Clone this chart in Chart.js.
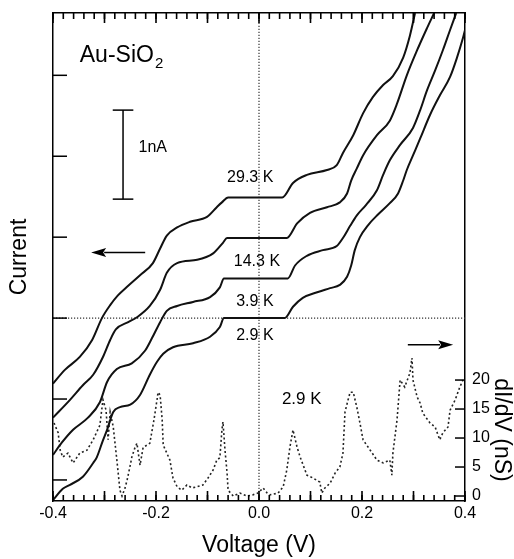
<!DOCTYPE html>
<html><head><meta charset="utf-8">
<style>html,body{margin:0;padding:0;background:#fff;}#wrap{width:514px;height:559px;}</style>
<script src="https://cdn.jsdelivr.net/npm/chart.js@4.4.1/dist/chart.umd.min.js"></script>
</head><body><div id="wrap"><canvas id="c" width="514" height="559"></canvas></div>
<script>
const voltage29_3K = [-0.400,-0.377,-0.348,-0.324,-0.305,-0.289,-0.274,-0.254,-0.231,-0.206,-0.192,-0.179,-0.159,-0.134,-0.101,-0.082,-0.072,-0.060,0.045,0.066,0.093,0.132,0.151,0.163,0.183,0.202,0.221,0.241,0.260,0.280,0.293,0.303];
const current29_3K = [-0.81,-0.64,-0.48,-0.27,0.00,0.16,0.28,0.40,0.53,0.68,0.86,1.02,1.12,1.19,1.25,1.37,1.43,1.49,1.49,1.67,1.77,1.83,1.89,2.04,2.26,2.53,2.73,2.88,2.99,3.22,3.49,3.77];
const voltage14_3K = [-0.400,-0.367,-0.342,-0.322,-0.303,-0.289,-0.278,-0.254,-0.237,-0.212,-0.192,-0.179,-0.159,-0.120,-0.089,-0.070,-0.062,0.054,0.074,0.099,0.132,0.157,0.171,0.179,0.190,0.202,0.229,0.254,0.268,0.287,0.307,0.326,0.340];
const current14_3K = [-1.23,-1.01,-0.83,-0.70,-0.48,-0.27,-0.14,-0.05,0.01,0.15,0.35,0.56,0.68,0.72,0.80,0.93,0.99,0.99,1.17,1.30,1.37,1.43,1.54,1.70,1.85,2.01,2.26,2.44,2.65,3.00,3.31,3.58,3.77];
const voltage3_9K = [-0.400,-0.383,-0.361,-0.332,-0.309,-0.295,-0.276,-0.247,-0.221,-0.208,-0.192,-0.179,-0.159,-0.128,-0.095,-0.076,-0.068,0.056,0.070,0.093,0.124,0.151,0.163,0.177,0.190,0.208,0.229,0.241,0.254,0.274,0.299,0.313,0.326,0.342,0.357,0.371,0.383];
const current3_9K = [-1.69,-1.54,-1.38,-1.23,-1.04,-0.79,-0.63,-0.56,-0.40,-0.25,-0.05,0.09,0.15,0.20,0.26,0.38,0.49,0.49,0.65,0.77,0.84,0.89,0.99,1.14,1.27,1.40,1.58,1.77,1.95,2.14,2.35,2.57,2.81,3.06,3.31,3.56,3.77];
const voltage2_9K = [-0.400,-0.381,-0.367,-0.342,-0.322,-0.315,-0.303,-0.295,-0.283,-0.270,-0.250,-0.231,-0.212,-0.198,-0.186,-0.167,-0.128,-0.095,-0.076,-0.068,0.050,0.066,0.085,0.113,0.138,0.157,0.171,0.179,0.186,0.196,0.212,0.231,0.254,0.270,0.280,0.287,0.299,0.313,0.332,0.351,0.371,0.384,0.396,0.400];
const current2_9K = [-2.25,-2.11,-2.06,-1.96,-1.79,-1.72,-1.51,-1.38,-1.16,-1.10,-1.07,-0.95,-0.70,-0.54,-0.44,-0.36,-0.31,-0.23,-0.11,0.00,0.00,0.14,0.25,0.32,0.37,0.41,0.51,0.65,0.84,1.00,1.15,1.28,1.42,1.54,1.70,1.83,2.01,2.22,2.51,2.75,2.98,3.21,3.46,3.56];
const dIdVVoltage = [-0.398,-0.390,-0.386,-0.381,-0.371,-0.361,-0.348,-0.334,-0.322,-0.309,
 -0.303,-0.297,-0.293,-0.289,-0.283,-0.276,-0.270,-0.266,-0.260,-0.256,
 -0.250,-0.247,-0.241,-0.237,-0.231,-0.225,-0.217,-0.212,-0.204,-0.198,
 -0.196,-0.192,-0.188,-0.186,-0.179,-0.173,-0.167,-0.159,-0.150,-0.140,
 -0.130,-0.120,-0.109,-0.099,-0.089,-0.082,-0.076,-0.072,-0.070,-0.066,
 -0.062,-0.060,-0.050,-0.037,-0.023,-0.012,-0.002,0.008,0.016,0.021,
 0.037,0.047,0.054,0.060,0.066,0.074,0.080,0.093,0.105,0.118,
 0.122,0.128,0.138,0.148,0.157,0.163,0.167,0.173,0.177,0.183,
 0.190,0.196,0.202,0.216,0.229,0.241,0.254,0.258,0.260,0.268,
 0.274,0.283,0.293,0.297,0.299,0.307,0.313,0.318,0.332,0.342,
 0.351,0.357,0.367,0.371,0.381,0.390,0.396];
const dIdVValues = [12.6,10.9,7.9,6.7,7.4,5.7,7.4,7.9,9.7,12.2,
 16.6,14.8,9.7,14.5,11.9,6.2,1.0,0.0,1.4,2.8,
 5.3,6.7,8.3,9.1,5.3,8.4,8.8,9.1,13.1,16.6,
 17.9,17.4,13.1,8.8,7.4,6.2,3.1,1.6,1.0,1.9,
 1.4,1.6,1.9,3.1,4.5,6.2,6.6,11.4,12.8,7.9,
 4.0,1.0,0.0,0.5,0.0,0.2,0.5,1.4,0.5,0.2,
 0.5,1.6,4.5,8.4,11.4,8.4,6.7,3.6,3.1,2.4,
 0.5,1.4,2.2,4.0,5.0,7.4,14.5,16.6,17.9,17.9,
 15.3,12.6,9.7,7.9,6.2,5.7,6.2,3.6,7.4,13.1,
 20.0,18.8,21.2,23.8,20.0,17.1,16.0,14.3,12.6,11.9,
 9.7,10.9,11.9,14.8,16.6,18.8,20.0];

const xTickLabels = ['-0.4','-0.2','0.0','0.2','0.4'];
const xMajorTickValues = [-0.4,-0.3,-0.2,-0.1,0,0.1,0.2,0.3,0.4];
const xMinorTickStep = 0.02;
const leftTickValues = [-2,-1,0,1,2,3];
const rightTickValues = [0,5,10,15,20];
const currentRange = [-2.26, 3.77];
const voltageRange = [-0.4, 0.4];
const dIdVRange = [-0.86, 83.3];

const tempLabels = ['29.3 K','14.3 K','3.9 K','2.9 K'];
const tempLabelV = [-0.017,-0.004,-0.008,-0.008];
const tempLabelI = [1.74,0.70,0.21,-0.22];
const dIdVLabel = {text:'2.9 K', v:0.083, g:16.6};
const sampleLabel = {main:'Au-SiO', sub:'2', v:-0.348, i:3.16};
const scaleBarV = -0.264, scaleBarI = [1.47, 2.57], scaleBarCapHalf = 0.02;
const scaleBarText = {text:'1nA', v:-0.234, i:2.11};
const leftArrow = {from:[-0.221,0.81], to:[-0.326,0.81]};
const rightArrow = {from:[0.289,-0.33], to:[0.377,-0.33]};

const pts = (xs, ys) => xs.map((x,i)=>({x, y:ys[i]}));
const FONT = "'Liberation Sans', Arial, Helvetica, sans-serif";
Chart.defaults.font.family = FONT;
Chart.defaults.color = '#000';

const ivStyle = {borderColor:'#111', borderWidth:2, pointRadius:0, cubicInterpolationMode:'monotone', fill:false, yAxisID:'y'};
const noPad = s => { s.paddingTop = 0; s.paddingBottom = 0; s.paddingLeft = 0; s.paddingRight = 0; };

const decor = {
  id:'decor',
  afterDraw(chart){
    const ctx = chart.ctx, a = chart.chartArea;
    const sx_ = chart.scales.x, sy_ = chart.scales.y, sy2_ = chart.scales.y2;
    const X = v=>sx_.getPixelForValue(v), Y = v=>sy_.getPixelForValue(v), Y2 = v=>sy2_.getPixelForValue(v);
    ctx.save();
    ctx.setLineDash([]);
    ctx.fillStyle = '#000';
    // inward x ticks, bottom and top
    const nMinor = Math.round((voltageRange[1]-voltageRange[0])/xMinorTickStep);
    for (let k = 0; k <= nMinor; k++) {
      const px = X(voltageRange[0] + k*xMinorTickStep);
      ctx.fillRect(px-0.8, a.bottom-6, 1.6, 6);
      ctx.fillRect(px-0.8, a.top, 1.6, 6);
    }
    xMajorTickValues.forEach(v=>{
      const px = X(v);
      ctx.fillRect(px-0.8, a.bottom-10, 1.6, 10);
      ctx.fillRect(px-0.8, a.top, 1.6, 10);
    });
    ctx.strokeStyle = '#000'; ctx.lineWidth = 1.5;
    const seg=(x1,y1,x2,y2)=>{ctx.beginPath();ctx.moveTo(x1,y1);ctx.lineTo(x2,y2);ctx.stroke();};
    leftTickValues.forEach(v=>{const py=Y(v); ctx.fillRect(a.left, py-0.75, 14, 1.5);});
    rightTickValues.forEach(v=>{const py=Y2(v); ctx.fillRect(a.right-10, py-0.75, 10, 1.5);});
    const bx0 = X(scaleBarV);
    seg(bx0, Y(scaleBarI[0]), bx0, Y(scaleBarI[1]));
    seg(X(scaleBarV-scaleBarCapHalf), Y(scaleBarI[0]), X(scaleBarV+scaleBarCapHalf), Y(scaleBarI[0]));
    seg(X(scaleBarV-scaleBarCapHalf), Y(scaleBarI[1]), X(scaleBarV+scaleBarCapHalf), Y(scaleBarI[1]));
    const arrow=(f,t)=>{
      const x1=X(f[0]),y1=Y(f[1]),x2=X(t[0]),yy=Y(t[1]);
      const dir = Math.sign(x2-x1), hl=15, hw=4.5;
      seg(x1,y1,x2-dir*hl+dir*2,yy);
      ctx.beginPath(); ctx.moveTo(x2,yy); ctx.lineTo(x2-dir*hl,yy-hw); ctx.lineTo(x2-dir*hl+dir*3,yy); ctx.lineTo(x2-dir*hl,yy+hw); ctx.closePath(); ctx.fill();
    };
    arrow(leftArrow.from,leftArrow.to);
    arrow(rightArrow.from,rightArrow.to);
    ctx.textBaseline='middle'; ctx.textAlign='center';
    ctx.font = `16px ${FONT}`;
    tempLabels.forEach((t,i)=>ctx.fillText(t, X(tempLabelV[i]), Y(tempLabelI[i])));
    ctx.font = `17px ${FONT}`;
    ctx.fillText(dIdVLabel.text, X(dIdVLabel.v), Y2(dIdVLabel.g));
    ctx.font = `16px ${FONT}`;
    ctx.textAlign='left';
    ctx.fillText(scaleBarText.text, X(scaleBarText.v), Y(scaleBarText.i));
    ctx.textBaseline='alphabetic';
    ctx.font = `23px ${FONT}`;
    const tx = X(sampleLabel.v), ty = Y(sampleLabel.i);
    ctx.fillText(sampleLabel.main, tx, ty);
    const w = ctx.measureText(sampleLabel.main).width;
    ctx.font = `15px ${FONT}`;
    ctx.fillText(sampleLabel.sub, tx+w+1, ty+6);
    ctx.save();
    ctx.translate(a.right+36, Y2(11.4));
    ctx.rotate(Math.PI/2);
    ctx.textAlign='center'; ctx.textBaseline='middle';
    ctx.font = `23px ${FONT}`;
    ctx.fillText('dI/dV (nS)', 0, 0);
    ctx.restore();
    ctx.restore();
  }
};

new Chart(document.getElementById('c'), {
  type:'line',
  data:{datasets:[
    {label:'29.3 K', data:pts(voltage29_3K,current29_3K), ...ivStyle},
    {label:'14.3 K', data:pts(voltage14_3K,current14_3K), ...ivStyle},
    {label:'3.9 K', data:pts(voltage3_9K,current3_9K), ...ivStyle},
    {label:'2.9 K', data:pts(voltage2_9K,current2_9K), ...ivStyle},
    {label:'dI/dV 2.9 K', data:pts(dIdVVoltage,dIdVValues), yAxisID:'y2', borderColor:'#222', borderWidth:1.6, borderDash:[2,2.5], pointRadius:0, tension:0, fill:false},
    {label:'V=0', data:pts([0,0],currentRange), yAxisID:'y', borderColor:'#333', borderWidth:1.2, borderDash:[1.2,1.8], pointRadius:0},
    {label:'I=0', data:pts(voltageRange,[0,0]), yAxisID:'y', borderColor:'#333', borderWidth:1.2, borderDash:[1.2,1.8], pointRadius:0}
  ]},
  options:{
    responsive:false, animation:false, devicePixelRatio:1,
    layout:{padding:0},
    plugins:{legend:{display:false}, tooltip:{enabled:false}},
    scales:{
      x:{type:'linear', position:'bottom', min:voltageRange[0], max:voltageRange[1],
         afterBuildTicks:s=>{s.ticks = xTickLabels.map(t=>({value:parseFloat(t)}));},
         ticks:{callback:(v,i)=>xTickLabels[i], font:{size:16}, color:'#000', padding:3, maxRotation:0, autoSkip:false},
         grid:{display:false, drawTicks:false}, border:{display:true, color:'#000', width:1.5},
         title:{display:true, text:'Voltage (V)', font:{size:23}, color:'#000', padding:{top:2,bottom:0}},
         afterFit:s=>{s.height=58; noPad(s);}},
      xTop:{type:'linear', position:'top', min:voltageRange[0], max:voltageRange[1],
         ticks:{display:false}, grid:{display:false, drawTicks:false}, border:{display:true, color:'#000', width:1.5},
         afterFit:s=>{s.height=13; noPad(s);}},
      y:{type:'linear', position:'left', min:currentRange[0], max:currentRange[1],
         ticks:{display:false}, grid:{display:false, drawTicks:false}, border:{display:true, color:'#000', width:1.5},
         title:{display:true, text:'Current', font:{size:23}, color:'#000', padding:{top:6,bottom:0}},
         afterFit:s=>{s.width=53; noPad(s);}},
      y2:{type:'linear', position:'right', min:dIdVRange[0], max:dIdVRange[1],
         afterBuildTicks:s=>{s.ticks = rightTickValues.map(v=>({value:v}));},
         ticks:{font:{size:16}, color:'#000', padding:7},
         grid:{display:false, drawTicks:false}, border:{display:true, color:'#000', width:1.5},
         afterFit:s=>{s.width=49; noPad(s);}}
    }
  },
  plugins:[decor]
});
</script></body></html>
